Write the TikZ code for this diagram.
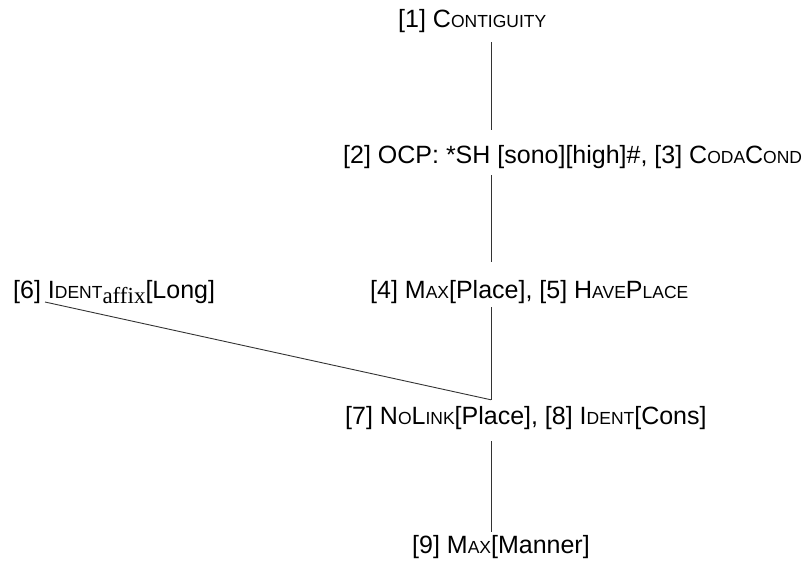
\documentclass[tikz,border=0pt]{standalone}
\usepackage{fontspec}
\setmainfont{Liberation Sans}
\newfontfamily\seriffont{Liberation Serif}
\usetikzlibrary{calc}
\newcommand\smc{\fontsize{17.5}{18}\selectfont}
\newcommand\subaffix{\raisebox{-5pt}{\seriffont\fontsize{23}{23}\selectfont affix}}
\tikzset{
  lbl/.style={inner sep=0pt, anchor=base west, text height=18pt, text depth=5pt,
    font=\fontsize{25}{28}\selectfont},
  edge/.style={line width=0.9pt, draw=black!80},
}
\begin{document}
\begin{tikzpicture}[x=1pt,y=-1pt]
\useasboundingbox (0,0) rectangle (810,567);
\coordinate (ax) at (491,0);
\node[lbl] (n1) at (398,28) {[1] C{\smc ONTIGUITY}};
\node[lbl] (n2) at (343,163) {[2] OCP: *SH [sono][high]\#, [3] C{\smc ODA}C{\smc OND}};
\node[lbl] (n4) at (370,298) {[4] M{\smc AX}[Place], [5] H{\smc AVE}P{\smc LACE}};
\node[lbl] (n6) at (13,298) {[6] I{\smc DENT}\subaffix[Long]};
\node[lbl] (n7) at (345,424) {[7] N{\smc O}L{\smc INK}[Place], [8] I{\smc DENT}[Cons]};
\node[lbl] (n9) at (412,553) {[9] M{\smc AX}[Manner]};
\draw[edge, shorten <=9pt, shorten >=15pt] (n1.south -| ax) -- (n2.north -| ax);
\draw[edge, shorten <=7pt, shorten >=18pt] (n2.south -| ax) -- (n4.north -| ax);
\draw[edge, shorten <=4pt, shorten >=6pt] (n4.south -| ax) -- (n7.north -| ax);
\draw[edge, shorten <=12pt, shorten >=3pt] (n7.south -| ax) -- (n9.north -| ax);
\draw[edge] ($(n6.base west)+(32,4)$) -- ($(n7.north -| ax)+(0,-6)$);
\end{tikzpicture}
\end{document}
